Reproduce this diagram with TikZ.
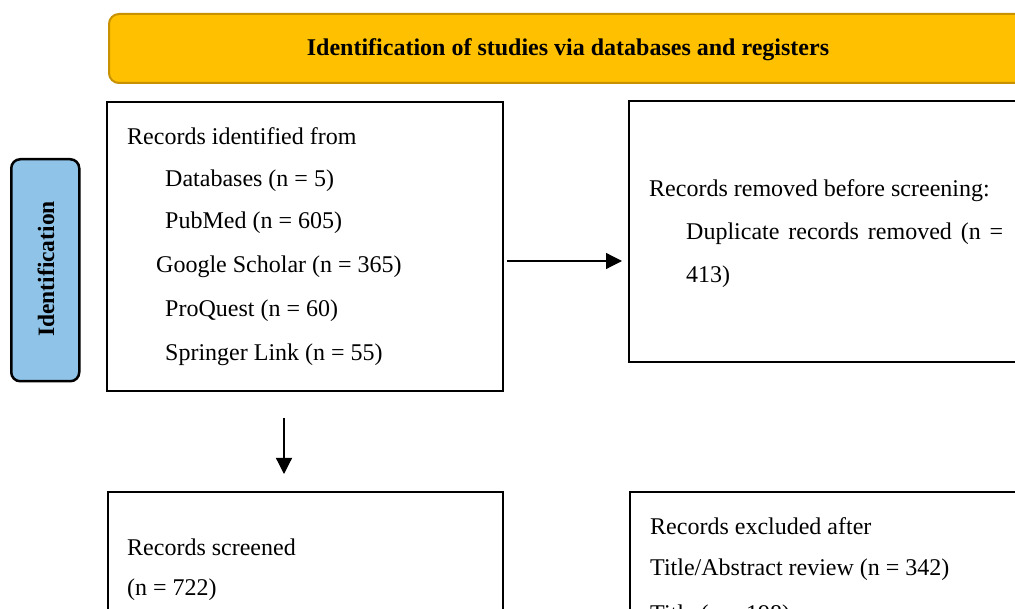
\documentclass[tikz,border=0pt]{standalone}
\usepackage{fontspec}
\setmainfont{Liberation Serif}
\usetikzlibrary{arrows.meta}
\definecolor{banner}{RGB}{255,192,0}
\definecolor{bannerline}{RGB}{200,145,0}
\definecolor{sideblue}{RGB}{143,196,232}
\tikzset{
  boxed/.style={draw=black, line width=2pt, anchor=north west, inner sep=0pt},
  txt/.style={anchor=west, inner sep=0pt, font=\fontsize{24}{28}\selectfont},
  arr/.style={line width=1.2pt, -{Triangle[length=16pt,width=16pt]}}
}
\begin{document}
\begin{tikzpicture}[x=1pt,y=-1pt]
\useasboundingbox (0,0) rectangle (1015,609);
\clip (0,0) rectangle (1015,609);
% banner
\node[draw=bannerline, fill=banner, line width=2pt, rounded corners=10pt, anchor=north west,
  minimum width=920pt, minimum height=69pt, inner sep=0pt] (banner) at (108,13) {};
\node[inner sep=0pt, font=\fontsize{24}{28}\selectfont\bfseries] (bannertxt) at (568,50) {Identification of studies via databases and registers};
% side label
\node[draw=black, fill=sideblue, line width=2.5pt, rounded corners=9pt, anchor=north west,
  minimum width=68pt, minimum height=222pt, inner sep=0pt] (side) at (10,158) {};
\node[rotate=90, inner sep=0pt, font=\fontsize{23.5}{28}\selectfont\bfseries] (sidetxt) at (46,269) {Identification};
% boxes
\node[boxed, minimum width=396pt, minimum height=289pt] (box1) at (106,101) {};
\node[boxed, minimum width=420pt, minimum height=261pt] (box2) at (628,100) {};
\node[boxed, minimum width=395pt, minimum height=160pt] (box3) at (107,491) {};
\node[boxed, minimum width=420pt, minimum height=160pt] (box4) at (629,491) {};
% box1 text
\node[txt] (t1) at (127,136) {Records identified from};
\node[txt] (t2) at (165,181) {Databases (n = 5)};
\node[txt] (t3) at (165,223) {PubMed (n = 605)};
\node[txt] (t4) at (156,267) {Google Scholar (n = 365)};
\node[txt] (t5) at (165,311) {ProQuest (n = 60)};
\node[txt] (t6) at (165,355) {Springer Link (n = 55)};
% box2 text
\node[txt] (u1) at (649,191) {Records removed before screening:};
\node[txt] (u2) at (686,234) {\makebox[317pt][s]{Duplicate records removed (n =}};
\node[txt] (u3) at (686,277) {413)};
% box3 text
\node[txt] (v1) at (127,547) {Records screened};
\node[txt] (v2) at (127,590) {(n = 722)};
% box4 text
\node[txt] (w1) at (650,526) {Records excluded after};
\node[txt] (w2) at (650,570) {Title/Abstract review (n = 342)};
\node[txt] (w3) at (650,616) {Title (n = 198)};
% arrows
\draw[arr, shorten <=3pt, shorten >=6pt] (box1.east |- 0,261) -- (box2.west |- 0,261);
\draw[arr, shorten <=26pt, shorten >=17pt] (box1.south -| 284,0) -- (box3.north -| 284,0);
\end{tikzpicture}
\end{document}
